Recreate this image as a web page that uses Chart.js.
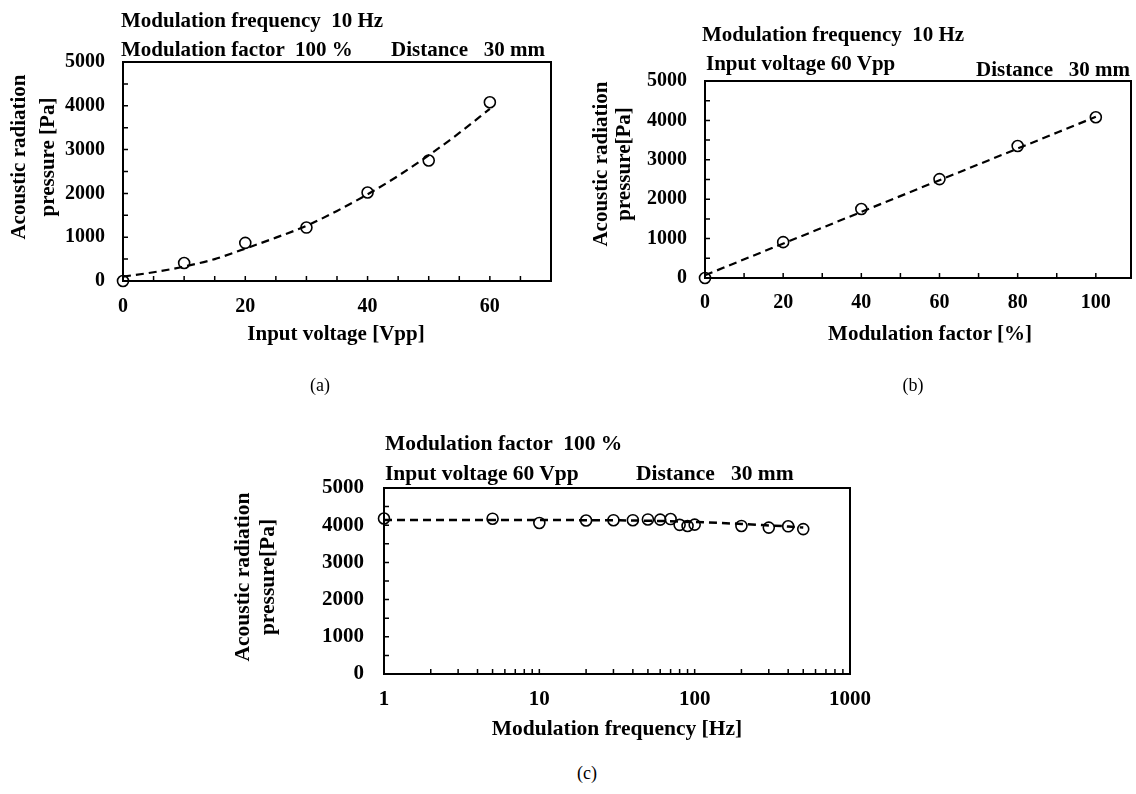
<!DOCTYPE html>
<html>
<head>
<meta charset="utf-8">
<title>Acoustic radiation pressure</title>
<script src="https://cdn.jsdelivr.net/npm/chart.js@4.4.1/dist/chart.umd.min.js"></script>
<style>
  html, body { margin: 0; padding: 0; background: #fff; }
  body { position: relative; width: 1136px; height: 794px; overflow: hidden; font-family: 'Liberation Serif', 'Times New Roman', serif; color: #000; }
  canvas { position: absolute; }
  .note { position: absolute; font-weight: bold; font-size: 21px; line-height: 24px; white-space: pre; }
  .xtitle { position: absolute; font-weight: bold; font-size: 21px; line-height: 24px; white-space: pre; transform: translateX(-50%); }
  .ytitle { position: absolute; width: 240px; font-weight: bold; font-size: 21px; text-align: center; white-space: pre; transform: rotate(-90deg); }
  .caption { position: absolute; font-size: 18px; line-height: 22px; transform: translateX(-50%); }
</style>
</head>
<body>
<canvas id="chartA" width="568" height="360" style="left:0;top:0"></canvas>
<canvas id="chartB" width="576" height="360" style="left:560px;top:0"></canvas>
<canvas id="chartC" width="700" height="340" style="left:200px;top:420px"></canvas>

<div class="note" style="left:121px;top:8px">Modulation frequency  10 Hz</div>
<div class="note" style="left:121px;top:37px">Modulation factor  100 %</div>
<div class="note" style="left:391px;top:37px">Distance   30 mm</div>
<div class="ytitle" style="left:-87px;top:128px;height:58px;line-height:29px">Acoustic radiation
pressure [Pa]</div>
<div class="xtitle" style="left:336px;top:321px">Input voltage [Vpp]</div>
<div class="caption" style="left:320px;top:374px">(a)</div>

<div class="note" style="left:702px;top:22px">Modulation frequency  10 Hz</div>
<div class="note" style="left:706px;top:51px">Input voltage 60 Vpp</div>
<div class="note" style="left:976px;top:57px">Distance   30 mm</div>
<div class="ytitle" style="left:492px;top:141px;height:46px;line-height:23px">Acoustic radiation
pressure[Pa]</div>
<div class="xtitle" style="left:930px;top:321px">Modulation factor [%]</div>
<div class="caption" style="left:913px;top:374px">(b)</div>

<div class="note" style="left:385px;top:431px;font-size:21.5px">Modulation factor  100 %</div>
<div class="note" style="left:385px;top:461px;font-size:21.5px">Input voltage 60 Vpp</div>
<div class="note" style="left:636px;top:461px;font-size:21.5px">Distance   30 mm</div>
<div class="ytitle" style="left:135px;top:552px;height:50px;line-height:25px;font-size:21.5px">Acoustic radiation
pressure[Pa]</div>
<div class="xtitle" style="left:617px;top:716px;font-size:21.5px">Modulation frequency [Hz]</div>
<div class="caption" style="left:587px;top:762px">(c)</div>

<script>
// (a) pressure vs input voltage
const voltageVpp = [0, 10, 20, 30, 40, 50, 60];
const pressureByVoltage = [0, 410, 870, 1220, 2020, 2750, 4080];
const voltageFitX = [0, 5, 10, 15, 20, 25, 30, 35, 40, 45, 50, 55, 60];
const voltageFitY = [100, 200, 330, 500, 740, 990, 1260, 1600, 1980, 2400, 2870, 3380, 3930];
const voltageTicks = [0, 5, 10, 15, 20, 25, 30, 35, 40, 45, 50, 55, 60, 65, 70];
const voltageLabels = [0, 20, 40, 60];

// (b) pressure vs modulation factor
const factorPct = [0, 20, 40, 60, 80, 100];
const pressureByFactor = [0, 910, 1750, 2510, 3350, 4080];
const factorFitX = [0, 100];
const factorFitY = [70, 4090];
const factorTicks = [0, 10, 20, 30, 40, 50, 60, 70, 80, 90, 100];
const factorLabels = [0, 20, 40, 60, 80, 100];

// (c) pressure vs modulation frequency
const freqHz = [1, 5, 10, 20, 30, 40, 50, 60, 70, 80, 90, 100, 200, 300, 400, 500];
const pressureByFreq = [4180, 4175, 4060, 4125, 4135, 4135, 4155, 4150, 4165, 4010, 3980, 4015, 3980, 3935, 3970, 3895];
const freqFitX = [1, 10, 50, 100, 200, 300, 400, 500];
const freqFitY = [4140, 4138, 4120, 4085, 4035, 3995, 3965, 3935];
const freqTicks = [1, 2, 3, 4, 5, 6, 7, 8, 9, 10, 20, 30, 40, 50, 60, 70, 80, 90, 100, 200, 300, 400, 500, 600, 700, 800, 900, 1000];
const freqLabels = [1, 10, 100, 1000];

const pressureLabels = [0, 1000, 2000, 3000, 4000, 5000];

Chart.defaults.font.family = "'Liberation Serif', 'Times New Roman', serif";
Chart.defaults.color = '#000';

// box round the plot and short ticks pointing inward, like the original figure
const frameAndTicks = {
  id: 'frameAndTicks',
  afterDraw(chart) {
    const { ctx, chartArea: a, scales: { x, y } } = chart;
    ctx.save();
    ctx.strokeStyle = '#000';
    ctx.lineWidth = 1.5;
    ctx.beginPath();
    x.ticks.forEach((t) => {
      const px = x.getPixelForValue(t.value);
      ctx.moveTo(px, a.bottom);
      ctx.lineTo(px, a.bottom - 5);
    });
    y.ticks.forEach((t) => {
      const py = y.getPixelForValue(t.value);
      ctx.moveTo(a.left, py);
      ctx.lineTo(a.left + 5, py);
    });
    ctx.stroke();
    ctx.lineWidth = 2;
    ctx.strokeRect(a.left, a.top, a.right - a.left, a.bottom - a.top);
    ctx.restore();
  },
};

function toPoints(xs, ys) {
  return xs.map((v, i) => ({ x: v, y: ys[i] }));
}

function makeChart(id, opts) {
  return new Chart(document.getElementById(id), {
    type: 'scatter',
    data: {
      datasets: [
        {
          data: toPoints(opts.fitX, opts.fitY),
          showLine: true,
          pointRadius: 0,
          borderColor: '#000',
          borderWidth: opts.lineWidth,
          borderDash: opts.dash,
          cubicInterpolationMode: 'monotone',
          fill: false,
        },
        {
          data: toPoints(opts.x, opts.y),
          showLine: false,
          pointRadius: 5.5,
          pointBorderWidth: 1.6,
          pointBorderColor: '#000',
          pointBackgroundColor: 'rgba(0,0,0,0)',
          clip: false,
        },
      ],
    },
    options: {
      responsive: false,
      animation: false,
      devicePixelRatio: 1,
      layout: { autoPadding: false, padding: opts.padding },
      plugins: { legend: { display: false }, tooltip: { enabled: false } },
      scales: {
        x: {
          type: opts.xType,
          min: opts.xMin,
          max: opts.xMax,
          afterFit: (s) => { s.height = opts.xHeight; },
          afterBuildTicks: (s) => { s.ticks = opts.xTicks.map((v) => ({ value: v })); },
          grid: { display: false, drawTicks: false },
          border: { display: false },
          ticks: {
            autoSkip: false,
            maxRotation: 0,
            padding: opts.xPad,
            font: { size: opts.tickSize, weight: 'bold' },
            callback: (v) => (opts.xLabels.includes(v) ? String(v) : ''),
          },
        },
        y: {
          min: 0,
          max: 5000,
          afterFit: (s) => { s.width = opts.yWidth; },
          grid: { display: false, drawTicks: false },
          border: { display: false },
          ticks: {
            stepSize: 500,
            autoSkip: false,
            padding: opts.yPad,
            font: { size: opts.tickSize, weight: 'bold' },
            callback: (v) => (pressureLabels.includes(v) ? String(v) : ''),
          },
        },
      },
    },
    plugins: [frameAndTicks],
  });
}

makeChart('chartA', {
  x: voltageVpp, y: pressureByVoltage, fitX: voltageFitX, fitY: voltageFitY,
  xType: 'linear', xMin: 0, xMax: 70, xTicks: voltageTicks, xLabels: voltageLabels,
  padding: { top: 62, right: 17, bottom: 0, left: 0 },
  yWidth: 123, xHeight: 79, yPad: 18, xPad: 14, tickSize: 20,
  lineWidth: 2.2, dash: [8, 5],
});

makeChart('chartB', {
  x: factorPct, y: pressureByFactor, fitX: factorFitX, fitY: factorFitY,
  xType: 'linear', xMin: 0, xMax: 109, xTicks: factorTicks, xLabels: factorLabels,
  padding: { top: 81, right: 5, bottom: 0, left: 0 },
  yWidth: 145, xHeight: 82, yPad: 18, xPad: 13, tickSize: 20,
  lineWidth: 2.2, dash: [8, 5],
});

makeChart('chartC', {
  x: freqHz, y: pressureByFreq, fitX: freqFitX, fitY: freqFitY,
  xType: 'logarithmic', xMin: 1, xMax: 1000, xTicks: freqTicks, xLabels: freqLabels,
  padding: { top: 68, right: 50, bottom: 0, left: 0 },
  yWidth: 184, xHeight: 86, yPad: 20, xPad: 13, tickSize: 21,
  lineWidth: 2.5, dash: [8, 5],
});
</script>
</body>
</html>
